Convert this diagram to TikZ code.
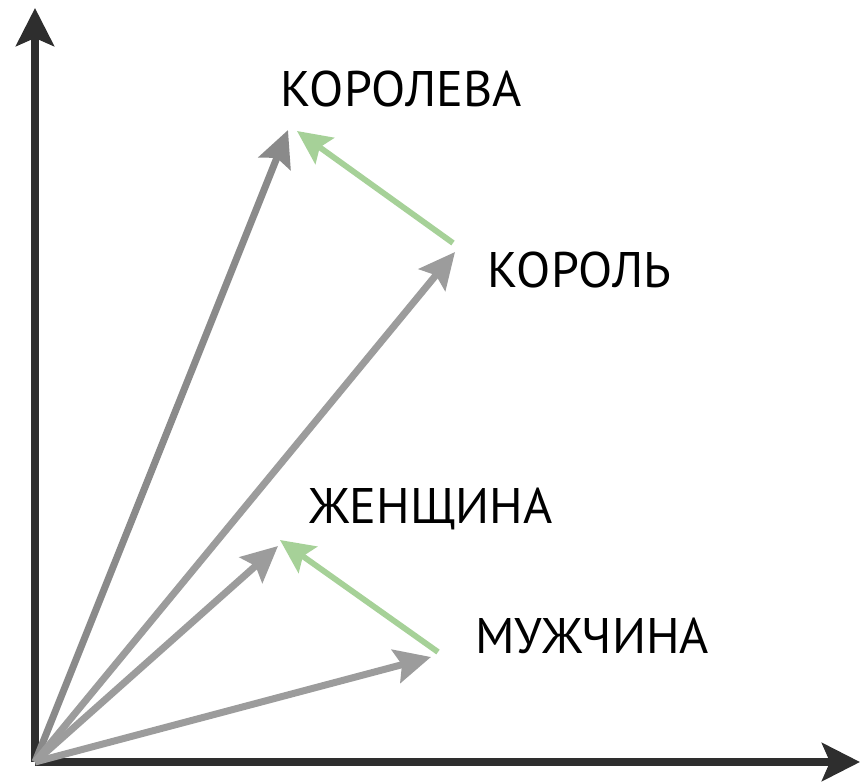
\documentclass[tikz,border=0pt]{standalone}
\usepackage{fontspec}
\setmainfont{PT Sans}
\usetikzlibrary{arrows.meta}
\definecolor{axisgray}{HTML}{2E2E2E}
\definecolor{vecdark}{HTML}{8A8A8A}
\definecolor{veclight}{HTML}{9C9C9C}
\definecolor{vecgreen}{HTML}{A6D198}
\tikzset{
  axis/.style={draw=axisgray,line width=3.6pt,-{Stealth[length=19pt,width=19pt,inset=4pt]}},
  wordvec/.style={line width=3.5pt,-{Stealth[length=18pt,width=17pt,inset=3pt]}},
  diffvec/.style={draw=vecgreen,line width=2.9pt,-{Stealth[length=17pt,width=16pt,inset=3pt]}},
  word/.style={font=\fontsize{25}{30}\selectfont,text=black,inner sep=0pt}
}
\begin{document}
\begin{tikzpicture}[x=0.5pt,y=-0.5pt]
  \useasboundingbox (0,0) rectangle (862,783);

  % Axes
  \coordinate (o) at (35,762);
  \coordinate (ytip) at (35,8);
  \coordinate (xtip) at (860,762);
  \draw[axis] (o) -- (ytip);
  \draw[axis] (o) -- (xtip);

  % Vector ends
  \coordinate (queen) at (288,130);
  \coordinate (king) at (455,252);
  \coordinate (woman) at (278,546);
  \coordinate (man) at (431,657);
  \coordinate (kingstart) at (453,243);
  \coordinate (queenend) at (297,131);
  \coordinate (manstart) at (438,652);
  \coordinate (womanend) at (280,540);

  % Word vectors
  \draw[wordvec,draw=vecdark] (o) -- (queen);
  \draw[wordvec,draw=veclight] (o) -- (king);
  \draw[wordvec,draw=veclight] (o) -- (woman);
  \draw[wordvec,draw=veclight] (o) -- (man);

  % Differences
  \draw[diffvec] (kingstart) -- (queenend);
  \draw[diffvec] (manstart) -- (womanend);

  % Labels
  \node[word,anchor=west] (queenlbl) at (280,89) {КОРОЛЕВА};
  \node[word,anchor=west] (kinglbl) at (487,270) {КОРОЛЬ};
  \node[word,anchor=west] (womanlbl) at (309,509) {ЖЕНЩИНА};
  \node[word,anchor=west] (manlbl) at (475,636) {МУЖЧИНА};

\end{tikzpicture}
\end{document}
